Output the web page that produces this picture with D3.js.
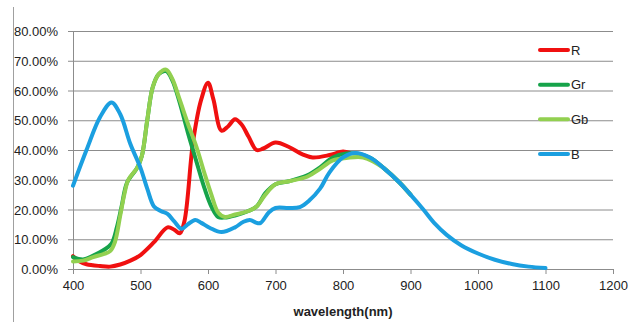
<!DOCTYPE html>
<html>
<head>
<meta charset="utf-8">
<script src="https://cdn.jsdelivr.net/npm/d3@7"></script>
<style>
  body { margin: 0; background: #fff; }
  svg { display: block; font-family: "Liberation Sans", Arial, sans-serif; }
</style>
</head>
<body>
<svg width="636" height="322"></svg>
<script>
// wavelength (nm) and response (%) per channel
const rWl = [400, 410, 420, 440, 455, 470, 485, 500, 520, 540, 550, 558, 565, 578, 590, 600, 608, 620, 630, 640, 650, 660, 672, 682, 700, 720, 740, 755, 780, 800, 810];
const rVal = [4.3, 2.5, 1.6, 1.0, 0.8, 1.5, 2.8, 4.7, 9, 14, 13.2, 12, 16, 43, 57, 62.6, 57, 46.5, 48, 50.3, 48.5, 44.5, 40, 40.5, 42.5, 41, 38.5, 37.5, 38.3, 39.5, 39];

const grWl = [400, 415, 430, 445, 457, 465, 472, 480, 495, 502, 510, 518, 527, 538, 547, 558, 570, 583, 595, 605, 615, 625, 640, 660, 672, 685, 700, 720, 747, 765, 785, 805, 820, 840, 860, 884, 900];
const grVal = [4, 3.2, 4.5, 6.3, 8.5, 14, 21, 29, 34, 38, 50, 61, 65.5, 66.5, 63.5, 56, 46, 36, 27, 21, 17.5, 17.3, 18, 19.5, 21, 25.5, 28.5, 29.5, 31.5, 34, 37.5, 38.8, 38.8, 37.4, 34, 29, 25];

const gbWl = [400, 415, 430, 445, 455, 462, 470, 476, 482, 495, 502, 510, 518, 527, 538, 547, 558, 570, 583, 595, 605, 615, 625, 640, 660, 672, 685, 700, 720, 747, 765, 785, 805, 830, 860, 884, 900];
const gbVal = [2.5, 2.8, 4, 5, 6, 9, 18, 25, 30, 34, 38, 50, 61, 65.5, 67, 64, 57, 49, 41, 32, 25, 19, 17.5, 18.3, 19.5, 21, 25, 28.5, 29.5, 31, 33.5, 36.5, 37.3, 37.5, 34, 29, 25];

const bWl = [400, 420, 440, 457, 470, 485, 500, 510, 520, 530, 540, 550, 561, 570, 581, 590, 603, 620, 640, 652, 662, 672, 678, 690, 700, 720, 736, 750, 766, 780, 800, 818, 840, 860, 884, 900, 919, 935, 954, 975, 1000, 1025, 1050, 1075, 1100];
const bVal = [28, 40, 51, 56, 52, 42, 34, 27, 21, 19.5, 18.5, 16, 13.5, 15, 16.5, 15.5, 13.8, 12.4, 14, 15.8, 16.5, 15.5, 15.5, 19, 20.5, 20.5, 20.8, 23, 27, 32.5, 37.5, 39, 37.5, 34, 29, 25, 20, 15.5, 11.4, 8, 5.2, 3.1, 1.7, 0.8, 0.3];

const seriesNames = ["R", "Gr", "Gb", "B"];
const seriesColors = ["#f01010", "#16a34a", "#92d050", "#1b9fe0"];
const xTicks = [400, 500, 600, 700, 800, 900, 1000, 1100, 1200];
const yTicks = [0, 10, 20, 30, 40, 50, 60, 70, 80];

const series = [
  rWl.map((w, i) => [w, rVal[i]]),
  grWl.map((w, i) => [w, grVal[i]]),
  gbWl.map((w, i) => [w, gbVal[i]]),
  bWl.map((w, i) => [w, bVal[i]])
];

const svg = d3.select("svg");
const margin = {top: 31, left: 73, right: 23, bottom: 53};
const w = 636, h = 322;

const x = d3.scaleLinear().domain([400, 1200]).range([margin.left, w - margin.right]);
const y = d3.scaleLinear().domain([0, 80]).range([h - margin.bottom, margin.top]);
const grey = "#8c8c8c";

// outer frame edge on the left
svg.append("line")
  .attr("x1", 13.5).attr("x2", 13.5).attr("y1", 7).attr("y2", 322)
  .attr("stroke", "#a0a0a0").attr("stroke-width", 1);

// gridlines + y axis
const yAxis = d3.axisLeft(y).tickValues(yTicks)
  .tickSize(-(w - margin.left - margin.right) - 5)
  .tickFormat(d => d.toFixed(2) + "%");
const gy = svg.append("g")
  .attr("transform", "translate(" + margin.left + ",0)")
  .call(yAxis);
gy.select(".domain").remove();
gy.selectAll(".tick line").attr("stroke", grey).attr("x1", -5);
gy.selectAll(".tick line").attr("x2", w - margin.left - margin.right);
gy.selectAll(".tick text")
  .attr("x", -15).attr("dy", "0.36em")
  .attr("fill", "#222").style("font-size", "13px").style("font-family", "Liberation Sans, Arial, sans-serif");
svg.append("line")
  .attr("x1", margin.left + 0.5).attr("x2", margin.left + 0.5)
  .attr("y1", y(80)).attr("y2", y(0))
  .attr("stroke", grey);

// x axis
const xAxis = d3.axisBottom(x).tickValues(xTicks).tickFormat(d => String(d)).tickSizeOuter(0).tickSize(5);
const gx = svg.append("g")
  .attr("transform", "translate(0," + y(0) + ")")
  .call(xAxis);
gx.select(".domain").attr("stroke", grey);
gx.selectAll(".tick line").attr("stroke", grey);
gx.selectAll(".tick text")
  .attr("y", 12).attr("dy", "0.71em")
  .attr("fill", "#222").style("font-size", "13px").style("font-family", "Liberation Sans, Arial, sans-serif");

svg.append("text")
  .attr("x", (margin.left + w - margin.right) / 2)
  .attr("y", 316)
  .attr("text-anchor", "middle")
  .style("font-size", "13px")
  .style("font-weight", "bold")
  .attr("fill", "#222")
  .text("wavelength(nm)");

// curves
const line = d3.line()
  .x(d => x(d[0]))
  .y(d => y(d[1]))
  .curve(d3.curveCatmullRom.alpha(0.5));

svg.append("g").selectAll("path")
  .data(series)
  .enter()
  .append("path")
  .attr("d", line)
  .attr("fill", "none")
  .attr("stroke", (d, i) => seriesColors[i])
  .attr("stroke-width", 4)
  .attr("stroke-linejoin", "round")
  .attr("stroke-linecap", "round");

// legend
const legendY = d3.scalePoint().domain(seriesNames).range([50, 154]);
const legend = svg.append("g");
legend.selectAll("line")
  .data(seriesNames)
  .enter()
  .append("line")
  .attr("x1", 540).attr("x2", 568)
  .attr("y1", d => legendY(d)).attr("y2", d => legendY(d))
  .attr("stroke", (d, i) => seriesColors[i])
  .attr("stroke-width", 4)
  .attr("stroke-linecap", "round");
legend.selectAll("text")
  .data(seriesNames)
  .enter()
  .append("text")
  .attr("x", 571)
  .attr("y", d => legendY(d))
  .attr("dy", "0.36em")
  .style("font-size", "13px")
  .attr("fill", "#222")
  .text(d => d);
</script>
</body>
</html>
